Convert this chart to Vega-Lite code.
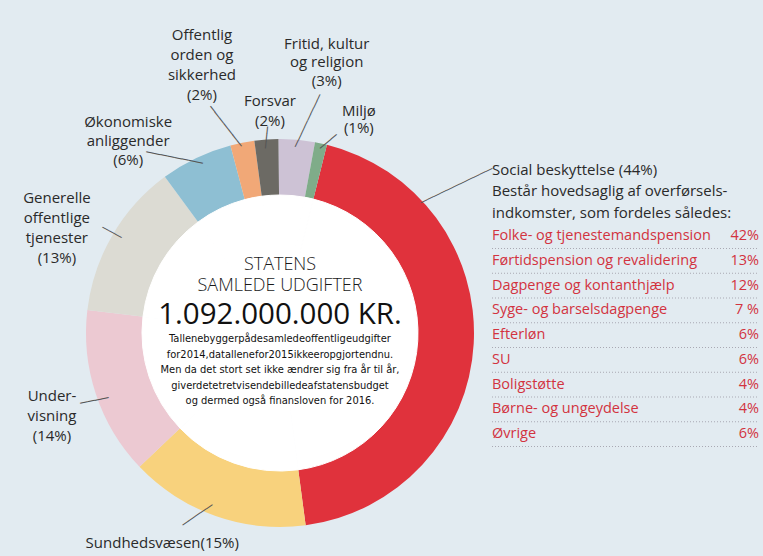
{
  "$schema": "https://vega.github.io/schema/vega-lite/v6.json",
  "width": 560,
  "height": 446,
  "autosize": {"type": "none"},
  "padding": {"left": 0, "top": 110, "right": 203, "bottom": 0},
  "background": "#e2ebf1",
  "config": {"view": {"stroke": null}, "text": {"font": "Open Sans"}},
  "datasets": {
    "sectors": [
      {"idx": 0, "cat": "Social beskyttelse", "pct": 44, "label": "Social beskyttelse (44%)"},
      {"idx": 1, "cat": "Sundhedsvæsen", "pct": 15, "label": "Sundhedsvæsen(15%)"},
      {"idx": 2, "cat": "Undervisning", "pct": 14, "label": "Under-\nvisning\n(14%)"},
      {"idx": 3, "cat": "Generelle offentlige tjenester", "pct": 13, "label": "Generelle\noffentlige\ntjenester\n(13%)"},
      {"idx": 4, "cat": "Økonomiske anliggender", "pct": 6, "label": "Økonomiske\nanliggender\n(6%)"},
      {"idx": 5, "cat": "Offentlig orden og sikkerhed", "pct": 2, "label": "Offentlig\norden og\nsikkerhed\n(2%)"},
      {"idx": 6, "cat": "Forsvar", "pct": 2, "label": "Forsvar\n(2%)"},
      {"idx": 7, "cat": "Fritid, kultur og religion", "pct": 3, "label": "Fritid, kultur\nog religion\n(3%)"},
      {"idx": 8, "cat": "Miljø", "pct": 1, "label": "Miljø\n(1%)"}
    ],
    "items": [
      {"row": 0, "item": "Folke- og tjenestemandspension", "share": "42%"},
      {"row": 1, "item": "Førtidspension og revalidering", "share": "13%"},
      {"row": 2, "item": "Dagpenge og kontanthjælp", "share": "12%"},
      {"row": 3, "item": "Syge- og barselsdagpenge", "share": "7 %"},
      {"row": 4, "item": "Efterløn", "share": "6%"},
      {"row": 5, "item": "SU", "share": "6%"},
      {"row": 6, "item": "Boligstøtte", "share": "4%"},
      {"row": 7, "item": "Børne- og ungeydelse", "share": "4%"},
      {"row": 8, "item": "Øvrige", "share": "6%"}
    ],
    "notes": [
      {"key": "t1", "text": "STATENS"},
      {"key": "t2", "text": "SAMLEDE UDGIFTER"},
      {"key": "t3", "text": "1.092.000.000 KR."},
      {"key": "para", "text": "Tallenebyggerpådesamledeoffentligeudgifter\nfor2014,datallenefor2015ikkeeropgjortendnu.\nMen da det stort set ikke ændrer sig fra år til år,\ngiverdetetretvisendebilledeafstatensbudget\nog dermed også finansloven for 2016."},
      {"key": "head", "text": "Social beskyttelse (44%)\nBestår hovedsaglig af overførsels-\nindkomster, som fordeles således:"}
    ]
  },
  "layer": [
    {
      "data": {"name": "sectors"},
      "mark": {"type": "arc", "innerRadius": 137, "outerRadius": 194},
      "encoding": {
        "theta": {"field": "pct", "type": "quantitative", "stack": true, "scale": {"range": [0.2443, 6.5275]}},
        "order": {"field": "idx", "type": "quantitative"},
        "color": {"field": "cat", "type": "nominal", "legend": null,
          "scale": {"domain": ["Social beskyttelse", "Sundhedsvæsen", "Undervisning", "Generelle offentlige tjenester", "Økonomiske anliggender", "Offentlig orden og sikkerhed", "Forsvar", "Fritid, kultur og religion", "Miljø"],
                    "range": ["#e0323c", "#f8d27d", "#ecc9d2", "#dcdbd3", "#8ebfd3", "#f1a877", "#6c6a64", "#cdc2d5", "#7fac89"]}}
      }
    },
    {
      "data": {"name": "sectors"},
      "mark": {"type": "arc", "innerRadius": 0, "outerRadius": 138, "fill": "white", "stroke": "white", "strokeWidth": 1},
      "encoding": {
        "theta": {"field": "pct", "type": "quantitative", "stack": true},
        "order": {"field": "idx", "type": "quantitative"}
      }
    },
    {
      "data": {"name": "sectors"},
      "mark": {"type": "text", "radius": 273, "dx": -25, "dy": -30, "fontSize": 15, "lineHeight": 20, "lineBreak": "\n", "align": "center", "baseline": "middle", "color": "#2a2a2a"},
      "encoding": {
        "theta": {"field": "pct", "type": "quantitative", "stack": true},
        "order": {"field": "idx", "type": "quantitative"},
        "text": {"condition": {"test": "datum.idx === 5", "field": "label", "type": "nominal"}, "value": ""}
      }
    },
    {
      "data": {"name": "sectors"},
      "mark": {"type": "text", "radius": 222.5, "dx": 5.5, "dy": -10, "fontSize": 15, "lineHeight": 20, "lineBreak": "\n", "align": "center", "baseline": "middle", "color": "#2a2a2a"},
      "encoding": {
        "theta": {"field": "pct", "type": "quantitative", "stack": true},
        "order": {"field": "idx", "type": "quantitative"},
        "text": {"condition": {"test": "datum.idx === 6", "field": "label", "type": "nominal"}, "value": ""}
      }
    },
    {
      "data": {"name": "sectors"},
      "mark": {"type": "text", "radius": 272, "dx": 23, "dy": -18.5, "fontSize": 15, "lineHeight": 18.5, "lineBreak": "\n", "align": "center", "baseline": "middle", "color": "#2a2a2a"},
      "encoding": {
        "theta": {"field": "pct", "type": "quantitative", "stack": true},
        "order": {"field": "idx", "type": "quantitative"},
        "text": {"condition": {"test": "datum.idx === 7", "field": "label", "type": "nominal"}, "value": ""}
      }
    },
    {
      "data": {"name": "sectors"},
      "mark": {"type": "text", "radius": 217, "dx": 33, "dy": -10, "fontSize": 15, "lineHeight": 17.5, "lineBreak": "\n", "align": "center", "baseline": "middle", "color": "#2a2a2a"},
      "encoding": {
        "theta": {"field": "pct", "type": "quantitative", "stack": true},
        "order": {"field": "idx", "type": "quantitative"},
        "text": {"condition": {"test": "datum.idx === 8", "field": "label", "type": "nominal"}, "value": ""}
      }
    },
    {
      "data": {"name": "sectors"},
      "mark": {"type": "text", "radius": 245, "dx": -46, "dy": 10, "fontSize": 15, "lineHeight": 19, "lineBreak": "\n", "align": "center", "baseline": "middle", "color": "#2a2a2a"},
      "encoding": {
        "theta": {"field": "pct", "type": "quantitative", "stack": true},
        "order": {"field": "idx", "type": "quantitative"},
        "text": {"condition": {"test": "datum.idx === 4", "field": "label", "type": "nominal"}, "value": ""}
      }
    },
    {
      "data": {"name": "sectors"},
      "mark": {"type": "text", "radius": 246, "dx": -10.5, "dy": -11, "fontSize": 15, "lineHeight": 20, "lineBreak": "\n", "align": "center", "baseline": "middle", "color": "#2a2a2a"},
      "encoding": {
        "theta": {"field": "pct", "type": "quantitative", "stack": true},
        "order": {"field": "idx", "type": "quantitative"},
        "text": {"condition": {"test": "datum.idx === 3", "field": "label", "type": "nominal"}, "value": ""}
      }
    },
    {
      "data": {"name": "sectors"},
      "mark": {"type": "text", "radius": 242, "dx": 1.6, "dy": -13, "fontSize": 15, "lineHeight": 20, "lineBreak": "\n", "align": "center", "baseline": "middle", "color": "#2a2a2a"},
      "encoding": {
        "theta": {"field": "pct", "type": "quantitative", "stack": true},
        "order": {"field": "idx", "type": "quantitative"},
        "text": {"condition": {"test": "datum.idx === 2", "field": "label", "type": "nominal"}, "value": ""}
      }
    },
    {
      "data": {"name": "sectors"},
      "mark": {"type": "text", "radius": 222, "dx": -44, "dy": 1, "fontSize": 15, "lineHeight": 20, "lineBreak": "\n", "align": "center", "baseline": "middle", "color": "#2a2a2a"},
      "encoding": {
        "theta": {"field": "pct", "type": "quantitative", "stack": true},
        "order": {"field": "idx", "type": "quantitative"},
        "text": {"condition": {"test": "datum.idx === 1", "field": "label", "type": "nominal"}, "value": ""}
      }
    },
    {
      "data": {"name": "sectors"},
      "mark": {"type": "text", "radius": 215.3, "angle": 52.1, "dx": -4, "dy": 12.5, "font": "DejaVu Sans Mono", "fontSize": 12, "align": "center", "baseline": "middle", "color": "#555555"},
      "encoding": {
        "theta": {"field": "pct", "type": "quantitative", "stack": true},
        "order": {"field": "idx", "type": "quantitative"},
        "text": {"condition": {"test": "datum.idx === 5", "value": "───────"}, "value": ""}
      }
    },
    {
      "data": {"name": "sectors"},
      "mark": {"type": "text", "radius": 196, "angle": 96, "dx": 0, "dy": 0, "font": "DejaVu Sans Mono", "fontSize": 12, "align": "center", "baseline": "middle", "color": "#555555"},
      "encoding": {
        "theta": {"field": "pct", "type": "quantitative", "stack": true},
        "order": {"field": "idx", "type": "quantitative"},
        "text": {"condition": {"test": "datum.idx === 6", "value": "───"}, "value": ""}
      }
    },
    {
      "data": {"name": "sectors"},
      "mark": {"type": "text", "radius": 216.2, "angle": 115.3, "dx": -1, "dy": -9.1, "font": "DejaVu Sans Mono", "fontSize": 12, "align": "center", "baseline": "middle", "color": "#555555"},
      "encoding": {
        "theta": {"field": "pct", "type": "quantitative", "stack": true},
        "order": {"field": "idx", "type": "quantitative"},
        "text": {"condition": {"test": "datum.idx === 7", "value": "────────"}, "value": ""}
      }
    },
    {
      "data": {"name": "sectors"},
      "mark": {"type": "text", "radius": 200.4, "angle": 140.7, "dx": -1.9, "dy": -7, "font": "DejaVu Sans Mono", "fontSize": 12, "align": "center", "baseline": "middle", "color": "#555555"},
      "encoding": {
        "theta": {"field": "pct", "type": "quantitative", "stack": true},
        "order": {"field": "idx", "type": "quantitative"},
        "text": {"condition": {"test": "datum.idx === 8", "value": "───"}, "value": ""}
      }
    },
    {
      "data": {"name": "sectors"},
      "mark": {"type": "text", "radius": 203.9, "angle": 11.3, "dx": -15.4, "dy": 11.6, "font": "DejaVu Sans Mono", "fontSize": 12, "align": "center", "baseline": "middle", "color": "#555555"},
      "encoding": {
        "theta": {"field": "pct", "type": "quantitative", "stack": true},
        "order": {"field": "idx", "type": "quantitative"},
        "text": {"condition": {"test": "datum.idx === 4", "value": "────────"}, "value": ""}
      }
    },
    {
      "data": {"name": "sectors"},
      "mark": {"type": "text", "radius": 195.7, "angle": 28.8, "dx": 0, "dy": -2.4, "font": "DejaVu Sans Mono", "fontSize": 12, "align": "center", "baseline": "middle", "color": "#555555"},
      "encoding": {
        "theta": {"field": "pct", "type": "quantitative", "stack": true},
        "order": {"field": "idx", "type": "quantitative"},
        "text": {"condition": {"test": "datum.idx === 3", "value": "───"}, "value": ""}
      }
    },
    {
      "data": {"name": "sectors"},
      "mark": {"type": "text", "radius": 197.3, "angle": 348.7, "dx": 0.6, "dy": 5.4, "font": "DejaVu Sans Mono", "fontSize": 12, "align": "center", "baseline": "middle", "color": "#555555"},
      "encoding": {
        "theta": {"field": "pct", "type": "quantitative", "stack": true},
        "order": {"field": "idx", "type": "quantitative"},
        "text": {"condition": {"test": "datum.idx === 2", "value": "────"}, "value": ""}
      }
    },
    {
      "data": {"name": "sectors"},
      "mark": {"type": "text", "radius": 199, "angle": 325.4, "dx": -10.3, "dy": -14, "font": "DejaVu Sans Mono", "fontSize": 12, "align": "center", "baseline": "middle", "color": "#555555"},
      "encoding": {
        "theta": {"field": "pct", "type": "quantitative", "stack": true},
        "order": {"field": "idx", "type": "quantitative"},
        "text": {"condition": {"test": "datum.idx === 1", "value": "─────"}, "value": ""}
      }
    },
    {
      "data": {"name": "sectors"},
      "transform": [{"filter": "datum.idx === 0"}],
      "mark": {"type": "text", "angle": 154.4, "font": "DejaVu Sans Mono", "fontSize": 12, "align": "center", "baseline": "middle", "color": "#555555", "text": "───────────"},
      "encoding": {
        "x": {"datum": -0.133, "type": "quantitative", "scale": {"domain": [0, 1], "range": [492, 759], "nice": false, "zero": false}, "axis": null},
        "y": {"datum": -2.04, "type": "quantitative", "scale": {"domain": [0, 8], "range": [126, 324], "nice": false, "zero": false}, "axis": null}
      }
    },
    {
      "data": {"name": "notes"},
      "transform": [{"filter": "datum.key === 't1'"}],
      "mark": {"type": "text", "dy": -68, "fontSize": 18, "fontWeight": 300, "align": "center", "baseline": "middle", "color": "#1a1a1a"},
      "encoding": {"text": {"field": "text", "type": "nominal"}}
    },
    {
      "data": {"name": "notes"},
      "transform": [{"filter": "datum.key === 't2'"}],
      "mark": {"type": "text", "dy": -47, "fontSize": 18, "fontWeight": 300, "align": "center", "baseline": "middle", "color": "#1a1a1a"},
      "encoding": {"text": {"field": "text", "type": "nominal"}}
    },
    {
      "data": {"name": "notes"},
      "transform": [{"filter": "datum.key === 't3'"}],
      "mark": {"type": "text", "dy": -18, "fontSize": 29.5, "align": "center", "baseline": "middle", "color": "#111111"},
      "encoding": {"text": {"field": "text", "type": "nominal"}}
    },
    {
      "data": {"name": "notes"},
      "transform": [{"filter": "datum.key === 'para'"}],
      "mark": {"type": "text", "dy": 6, "font": "Liberation Sans Narrow, DejaVu Sans Condensed, Roboto", "fontSize": 11, "lineHeight": 15.5, "lineBreak": "\n", "align": "center", "baseline": "middle", "color": "#111111"},
      "encoding": {"text": {"field": "text", "type": "nominal"}}
    },
    {
      "data": {"name": "notes"},
      "transform": [{"filter": "datum.key === 'head'"}],
      "mark": {"type": "text", "fontSize": 15, "lineHeight": 21.5, "lineBreak": "\n", "align": "left", "baseline": "middle", "color": "#2a2a2a"},
      "encoding": {
        "x": {"datum": 0, "type": "quantitative", "axis": null},
        "y": {"datum": -2.667, "type": "quantitative", "axis": null},
        "text": {"field": "text", "type": "nominal"}
      }
    },
    {
      "data": {"name": "items"},
      "mark": {"type": "rule", "yOffset": 12.5, "stroke": "#a9a9b3", "strokeWidth": 1, "strokeDash": [1, 2]},
      "encoding": {
        "x": {"datum": 0, "type": "quantitative", "axis": null},
        "x2": {"datum": 1},
        "y": {"field": "row", "type": "quantitative", "axis": null}
      }
    },
    {
      "data": {"name": "items"},
      "mark": {"type": "text", "fontSize": 14.5, "align": "left", "baseline": "middle", "color": "#d2333f"},
      "encoding": {
        "x": {"datum": 0, "type": "quantitative", "axis": null},
        "y": {"field": "row", "type": "quantitative", "axis": null},
        "text": {"field": "item", "type": "nominal"}
      }
    },
    {
      "data": {"name": "items"},
      "mark": {"type": "text", "fontSize": 14.5, "align": "right", "baseline": "middle", "color": "#d2333f"},
      "encoding": {
        "x": {"datum": 1, "type": "quantitative", "axis": null},
        "y": {"field": "row", "type": "quantitative", "axis": null},
        "text": {"field": "share", "type": "nominal"}
      }
    }
  ]
}
